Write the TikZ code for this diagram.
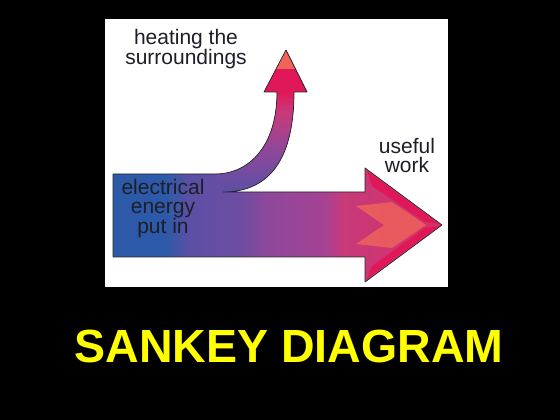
\documentclass[tikz,border=0pt]{standalone}
\usepackage{fontspec}
\setmainfont{Liberation Sans}

\definecolor{inblue}{RGB}{44,90,168}
\definecolor{indigo}{RGB}{90,80,165}
\definecolor{indigopurple}{RGB}{112,76,160}
\definecolor{midpurple}{RGB}{140,72,155}
\definecolor{purplepink}{RGB}{165,66,148}
\definecolor{workpink}{RGB}{200,58,122}
\definecolor{headpink}{RGB}{212,48,102}
\definecolor{crimson}{RGB}{224,24,90}
\definecolor{salmon}{RGB}{240,100,90}
\definecolor{titleyellow}{RGB}{255,255,0}
\definecolor{labelink}{RGB}{30,30,40}

\pgfdeclarehorizontalshading{flowshade}{100bp}{color(0bp)=(inblue); color(25bp)=(inblue); color(33bp)=(inblue);
  color(36.5bp)=(indigo); color(45bp)=(indigopurple); color(48bp)=(midpurple); color(57bp)=(purplepink);
  color(60bp)=(workpink); color(75bp)=(headpink); color(100bp)=(headpink)}
\pgfdeclareverticalshading{branchshade}{100bp}{color(0bp)=(indigo); color(25bp)=(indigo); color(45bp)=(midpurple);
  color(65bp)=(workpink); color(75bp)=(crimson); color(100bp)=(crimson)}

\newcommand{\sankeyoutline}{(113,163) -- (365,163) -- (365,138) -- (442,195) -- (365,252) -- (365,228) -- (223,228)
  .. controls (265,228) and (294,255) .. (294,328) -- (307,328) -- (286,370) -- (264,328) -- (277,328)
  .. controls (277,275) and (250,246) .. (215,246) -- (113,246) -- cycle}

\begin{document}
\begin{tikzpicture}[x=1pt,y=1pt,
    sankeylabel/.style={font=\fontsize{21}{19}\selectfont, text=labelink, align=center, inner sep=0pt, anchor=base},
    edge line/.style={draw=black!85, line width=0.7pt, line join=round}]
    \fill[black] (0,0) rectangle (560,420);
    \useasboundingbox (0,0) rectangle (560,420);
    \fill[white] (105,133) rectangle (448,401);
    % main flow
    \shade[shading=flowshade] \sankeyoutline;
    \fill[crimson] (367,249) -- (439,196) -- (425,198) -- (372,234) -- cycle;
    \fill[crimson] (367,141) -- (439,194) -- (425,192) -- (372,154) -- cycle;
    \fill[salmon, opacity=0.8] (356,214) -- (392,218) -- (426,195) -- (392,172) -- (356,176) -- (384,195) -- cycle;
    % branch to the surroundings
    \shade[shading=branchshade] (215,246) .. controls (250,246) and (277,275) .. (277,328) -- (294,328)
        .. controls (294,255) and (265,228) .. (223,228) -- cycle;
    \fill[crimson] (264,328) -- (286,370) -- (307,328) -- cycle;
    \begin{scope}
        \clip (264,328) -- (286,370) -- (307,328) -- cycle;
        \fill[salmon] (260,351) rectangle (310,372);
    \end{scope}
    \draw[edge line] \sankeyoutline;
    % labels (base = last line)
    \node[sankeylabel] (heatlabel) at (186,355) {heating the\\surroundings};
    \node[sankeylabel] (worklabel) at (407,247.5) {useful\\work};
    \node[sankeylabel] (inputlabel) at (163,186) {electrical\\energy\\put in};
    \node[font=\bfseries\fontsize{46.5}{46.5}\selectfont, text=titleyellow, inner sep=0pt, anchor=base] (title) at (289,57) {SANKEY DIAGRAM};
\end{tikzpicture}
\end{document}
